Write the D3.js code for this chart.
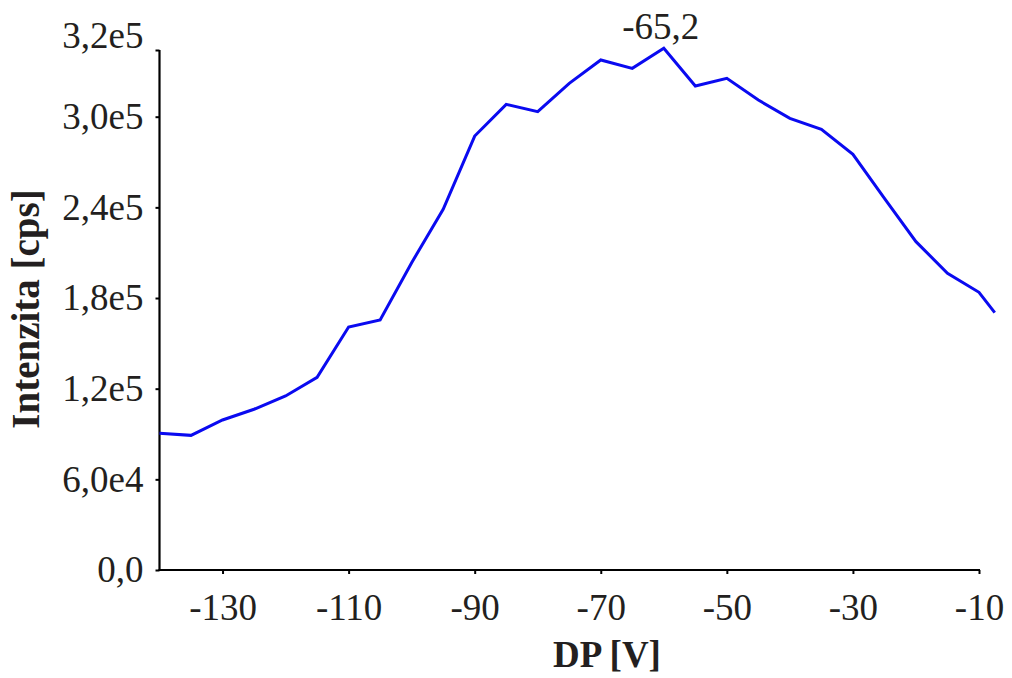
<!DOCTYPE html>
<html>
<head>
<meta charset="utf-8">
<script src="https://cdn.jsdelivr.net/npm/d3@7"></script>
<style>
  body { margin: 0; background: #fff; }
  text { font-family: "Liberation Serif", "Times New Roman", serif; fill: #231f20; }
</style>
</head>
<body>
<div id="chart"></div>
<script>
// DP voltage [V]
var dpValues = [-140, -135, -130, -125, -120, -115, -110, -105, -100, -95, -90, -85, -80,
  -75, -70, -65, -60, -55, -50, -45, -40, -35, -30, -25, -20, -15, -10, -7.5];
// intensity [cps]
var intensity = [90500, 89100, 99300, 106400, 115200, 127500, 160800, 165500, 203400,
  238700, 287200, 303700, 301500, 310000, 317000, 314500, 320500, 309200, 311500,
  305000, 298900, 291700, 275100, 246000, 217300, 196400, 183800, 170300];
// axis ticks
var xTicks = [-130, -110, -90, -70, -50, -30, -10];
var yTicks = [0, 60000, 120000, 180000, 240000, 300000, 320000];
var yTickLabels = ["0,0", "6,0e4", "1,2e5", "1,8e5", "2,4e5", "3,0e5", "3,2e5"];
var peakLabel = "-65,2";

window.onload = function() {
  drawChart();
};

function drawChart() {
  var width = 1012,
      height = 678;

  var svg = d3.select("#chart")
    .append("svg")
    .attr("width", width)
    .attr("height", height);

  // x scale, axis runs from left edge to the -10 tick
  var x = d3.scaleLinear()
    .domain([-140, -10])
    .range([159.5, 979]);

  // the top of the original axis is compressed, so use a two piece scale
  var y = d3.scaleLinear()
    .domain([0, 300000, 320000])
    .range([570, 116.7, 50]);

  // x axis
  var xAxis = d3.axisBottom(x)
    .tickValues(xTicks)
    .tickSizeInner(4)
    .tickSizeOuter(0)
    .tickPadding(20)
    .tickFormat(function(d) { return d; });

  var gx = svg.append("g")
    .attr("transform", "translate(0," + y(0) + ")")
    .call(xAxis);
  gx.select(".domain").attr("stroke", "#000").attr("stroke-width", 2.2)
    .attr("d", "M" + (x(-140) - 1) + ",0H" + (x(-10) + 1));
  gx.selectAll(".tick line").attr("stroke", "#000").attr("stroke-width", 2);
  gx.selectAll(".tick text")
    .style("font-size", "37px")
    .attr("fill", "#231f20");

  // y axis
  var yAxis = d3.axisLeft(y)
    .tickValues(yTicks)
    .tickSizeInner(4)
    .tickSizeOuter(0)
    .tickPadding(12)
    .tickFormat(function(d, i) { return yTickLabels[i]; });

  var gy = svg.append("g")
    .attr("transform", "translate(" + x(-140) + ",0)")
    .call(yAxis);
  gy.select(".domain").attr("stroke", "#000").attr("stroke-width", 2.2)
    .attr("d", "M0," + (y(0) + 1) + "V" + y(320000));
  gy.selectAll(".tick line").attr("stroke", "#000").attr("stroke-width", 2);
  gy.selectAll(".tick text")
    .style("font-size", "37px")
    .attr("fill", "#231f20")
    .attr("dy", function(d, i) { return i === yTicks.length - 1 ? "-0.07em" : "0.32em"; });

  // data line
  var points = dpValues.map(function(d, i) { return [d, intensity[i]]; });
  var line = d3.line()
    .x(function(d) { return x(d[0]); })
    .y(function(d) { return y(d[1]); });

  svg.append("path")
    .datum(points)
    .attr("fill", "none")
    .attr("stroke", "#0a0af0")
    .attr("stroke-width", 3)
    .attr("stroke-linejoin", "miter")
    .attr("d", line);

  // peak label above the maximum
  var peak = points[d3.maxIndex(intensity)];
  svg.append("text")
    .attr("x", x(peak[0]) - 3)
    .attr("y", y(peak[1]) - 9)
    .style("text-anchor", "middle")
    .style("font-size", "37px")
    .text(peakLabel);

  // axis titles
  svg.append("text")
    .attr("x", 607)
    .attr("y", 667)
    .style("text-anchor", "middle")
    .style("font-size", "37px")
    .style("font-weight", "bold")
    .text("DP [V]");

  svg.append("text")
    .attr("transform", "translate(39," + 309 + ") rotate(-90)")
    .style("text-anchor", "middle")
    .style("font-size", "39px")
    .style("font-weight", "bold")
    .text("Intenzita [cps]");
}
</script>
</body>
</html>
